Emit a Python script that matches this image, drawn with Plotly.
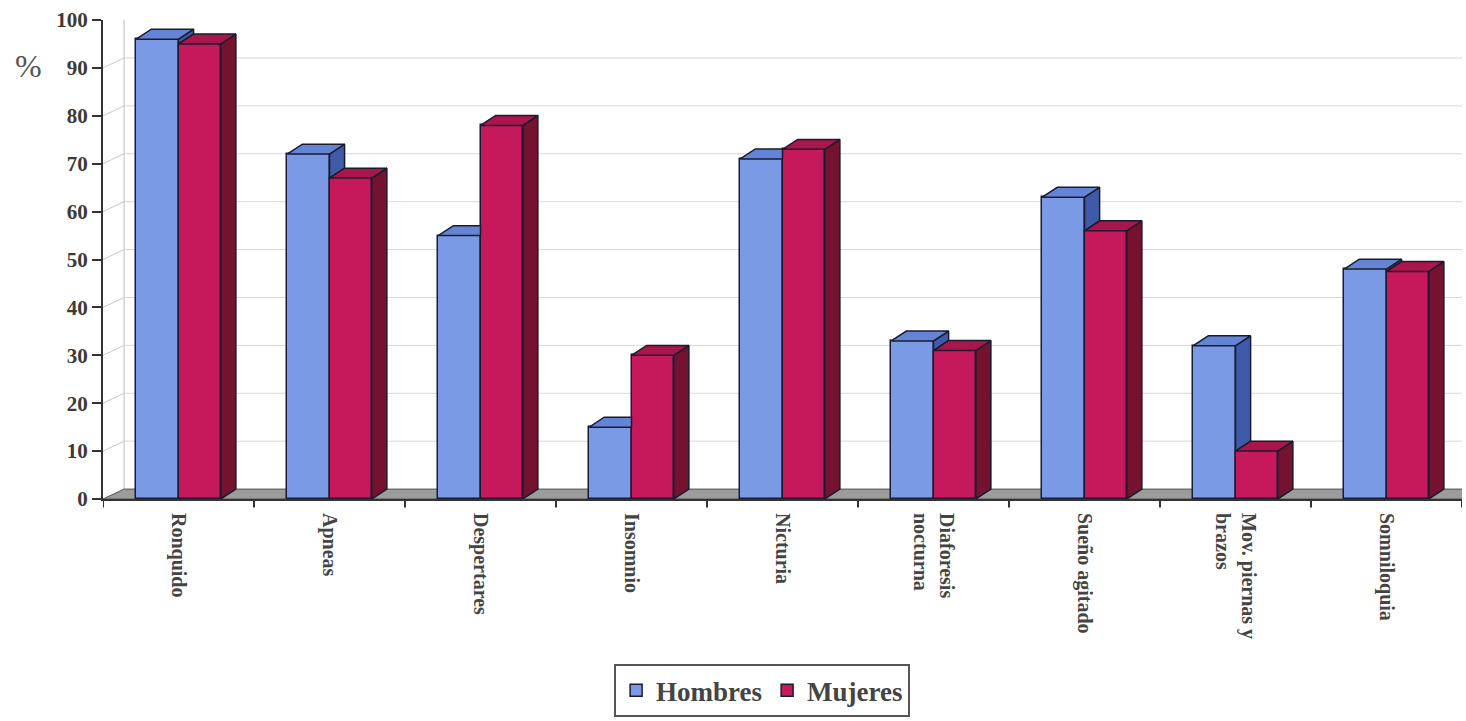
import plotly.graph_objects as go

# Sleep symptoms by sex (%)
categorias = ["Ronquido", "Apneas", "Despertares", "Insomnio", "Nicturia",
              "Diaforesis<br>nocturna", "Sueño agitado", "Mov. piernas y<br>brazos",
              "Somniloquia"]
hombres = [96, 72, 55, 15, 71, 33, 63, 32, 48]
mujeres = [95, 67, 78, 30, 73, 31, 56, 10, 47.5]
y_ticks = [0, 10, 20, 30, 40, 50, 60, 70, 80, 90, 100]

# geometry of the pseudo-3D columns (in axis units)
BAR_W = 0.28
BLUE_X = 0.36
RED_X = 0.64
DX = 0.1      # depth offset along x
DY = 2.07     # depth offset along y

BLUE_FRONT, BLUE_TOP, BLUE_SIDE = "#7b9ae6", "#6485d6", "#3e5aa8"
RED_FRONT, RED_TOP, RED_SIDE = "#c6195c", "#a8164c", "#74122f"
EDGE = "#1b1b30"

n = len(categorias)
xs = list(range(n))


def poly_trace(polys, color):
    px, py = [], []
    for p in polys:
        for (a, b) in p:
            px.append(a)
            py.append(b)
        px.append(p[0][0])
        py.append(p[0][1])
        px.append(None)
        py.append(None)
    return go.Scatter(x=px, y=py, mode="lines", fill="toself", fillcolor=color,
                      line=dict(color=EDGE, width=1.5), hoverinfo="skip",
                      showlegend=False, cliponaxis=False)


fig = go.Figure()

fig.add_trace(go.Bar(name="<b>Hombres</b>", x=[i + BLUE_X for i in xs], y=hombres,
                     width=BAR_W, marker=dict(color=BLUE_FRONT, line=dict(color=EDGE, width=1.5))))
fig.add_trace(go.Bar(name="<b>Mujeres</b>", x=[i + RED_X for i in xs], y=mujeres,
                     width=BAR_W, marker=dict(color=RED_FRONT, line=dict(color=EDGE, width=1.5))))

blue_tops, blue_sides, red_tops, red_sides = [], [], [], []
for i, (vb, vr) in enumerate(zip(hombres, mujeres)):
    b0 = i + BLUE_X - BAR_W / 2
    b1 = i + BLUE_X + BAR_W / 2
    r0 = i + RED_X - BAR_W / 2
    r1 = i + RED_X + BAR_W / 2
    if vb > vr:
        blue_tops.append([(b0, vb), (b1, vb), (b1 + DX, vb + DY), (b0 + DX, vb + DY)])
        blue_sides.append([(b1, vr), (b1, vb), (b1 + DX, vb + DY), (b1 + DX, vr + DY)])
    else:
        blue_tops.append([(b0, vb), (b1, vb), (b1, vb + DY), (b0 + DX, vb + DY)])
    red_tops.append([(r0, vr), (r1, vr), (r1 + DX, vr + DY), (r0 + DX, vr + DY)])
    red_sides.append([(r1, 0), (r1, vr), (r1 + DX, vr + DY), (r1 + DX, DY)])

fig.add_trace(poly_trace(blue_sides, BLUE_SIDE))
fig.add_trace(poly_trace(blue_tops, BLUE_TOP))
fig.add_trace(poly_trace(red_sides, RED_SIDE))
fig.add_trace(poly_trace(red_tops, RED_TOP))

shapes = []
# back wall gridlines and left wall diagonals
for t in y_ticks[1:]:
    shapes.append(dict(type="line", xref="x", yref="y", x0=DX * 1.4, x1=n + 0.2,
                       y0=t + DY, y1=t + DY, line=dict(color="#d6d6de", width=1), layer="below"))
    shapes.append(dict(type="line", xref="x", yref="y", x0=0, x1=DX * 1.4,
                       y0=t, y1=t + DY, line=dict(color="#c8c8d0", width=1), layer="below"))
shapes.append(dict(type="line", xref="x", yref="y", x0=DX * 1.4, x1=DX * 1.4,
                   y0=DY, y1=100 + DY, line=dict(color="#c8c8d0", width=1.2), layer="below"))
# floor
shapes.append(dict(type="path", xref="x", yref="y",
                   path=f"M 0 0 L {n + 0.2} 0 L {n + 0.2} {DY} L {DX * 1.4} {DY} Z",
                   fillcolor="#9c9c9c", line=dict(color="#555", width=1), layer="below"))
# category boundary ticks
for i in range(n + 1):
    shapes.append(dict(type="line", xref="x", yref="paper", x0=i, x1=i, y0=0, y1=-0.018,
                       line=dict(color="#333", width=2)))

fig.update_layout(
    width=1466, height=721,
    margin=dict(l=103, r=4, t=20, b=218),
    plot_bgcolor="white", paper_bgcolor="white",
    barmode="overlay", bargap=0,
    shapes=shapes,
    font=dict(family="Liberation Serif, Times New Roman, serif", color="#3a3a3a"),
    xaxis=dict(range=[0, n], tickmode="array", tickvals=[i + 0.5 for i in xs],
               ticktext=[f"<b>{c}</b>" for c in categorias], tickangle=90,
               tickfont=dict(size=20, color="#444"), ticks="", showgrid=False,
               ticklabelstandoff=8,
               zeroline=False, showline=True, linecolor="#333", linewidth=2),
    yaxis=dict(range=[0, 100], tickmode="array", tickvals=y_ticks,
               ticktext=[f"<b>{t}</b>" for t in y_ticks],
               tickfont=dict(size=21, color="#3a3a3a"), ticks="outside", ticklen=9,
               tickwidth=2, tickcolor="#333", showgrid=False, zeroline=False,
               showline=True, linecolor="#333", linewidth=2),
    legend=dict(orientation="h", x=0.485, xanchor="center", y=-0.345, yanchor="top",
                font=dict(size=27, color="#444", family="Liberation Serif, serif"),
                bgcolor="white", bordercolor="#555", borderwidth=2,
                itemwidth=30, traceorder="normal"),
    annotations=[dict(text="%", xref="paper", yref="paper", x=-0.055, y=0.905,
                      xanchor="center", yanchor="middle",
                      showarrow=False, font=dict(size=32, color="#555"))],
)

fig.write_html("out.html")
